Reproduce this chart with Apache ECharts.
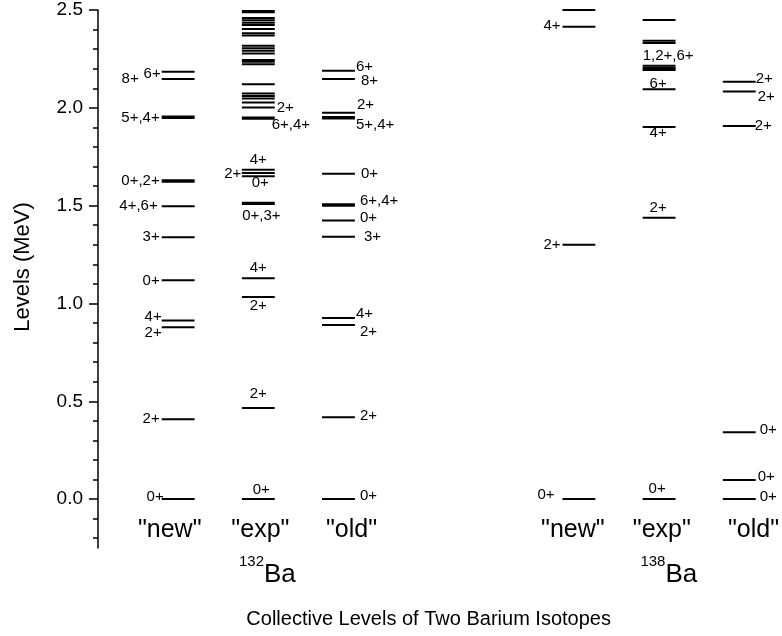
<!DOCTYPE html>
<html><head><meta charset="utf-8">
<script src="https://cdn.jsdelivr.net/npm/echarts@6/dist/echarts.min.js"></script>
<style>html,body{margin:0;padding:0;background:#fff}#c{width:782px;height:636px}</style>
</head><body><div id="c"></div>
<script>
// ---------- data ----------
const columnNames = ['"new"', '"exp"', '"old"', '"new"', '"exp"', '"old"'];
const columnPos = [1, 2, 3, 6, 7, 8];
const captionPos = [0.895, 2.026, 3.163, 5.924, 7.034, 8.177];
const isotopeMass = ['132', '138'];
const yMajorTicks = [0, 0.5, 1.0, 1.5, 2.0, 2.5];
const yMinorTicks = [-0.2, -0.1, 0.1, 0.2, 0.3, 0.4, 0.6, 0.7, 0.8, 0.9, 1.1, 1.2, 1.3, 1.4,
  1.6, 1.7, 1.8, 1.9, 2.1, 2.2, 2.3, 2.4];

// 132Ba "new"
const ba132NewLevels = [0, 0.408, 0.879, 0.913, 1.118, 1.339, 1.497, 1.622, 1.630, 1.948, 1.956, 2.147, 2.184];
const ba132NewSpins = ['0+', '2+', '2+', '4+', '0+', '3+', '4+,6+', '', '0+,2+', '', '5+,4+', '8+', '6+'];
// 132Ba "exp"
const ba132ExpLevels = [0, 0.465, 1.033, 1.129, 1.508, 1.515, 1.650, 1.667, 1.684, 1.944, 1.951, 2.002,
  2.027, 2.048, 2.061, 2.073, 2.121, 2.223, 2.235, 2.245, 2.278, 2.292, 2.304, 2.317,
  2.370, 2.381, 2.403, 2.423, 2.435, 2.447, 2.459, 2.488, 2.495];
const ba132ExpSpins = ['0+', '2+', '2+', '4+', '0+,3+', '', '0+', '2+', '4+', '6+,4+', '', '2+',
  '', '', '', '', '', '', '', '', '', '', '', '', '', '', '', '', '', '', '', '', ''];
// 132Ba "old"
const ba132OldLevels = [0, 0.418, 0.890, 0.926, 1.341, 1.424, 1.500, 1.507, 1.663, 1.946, 1.953, 1.975, 2.147, 2.189];
const ba132OldSpins = ['0+', '2+', '2+', '4+', '3+', '0+', '', '6+,4+', '0+', '', '5+,4+', '2+', '8+', '6+'];
// 138Ba "new"
const ba138NewLevels = [0, 1.30, 2.415, 2.500];
const ba138NewSpins = ['0+', '2+', '4+', ''];
// 138Ba "exp"
const ba138ExpLevels = [0, 1.438, 1.902, 2.095, 2.193, 2.199, 2.205, 2.215, 2.331, 2.343, 2.449];
const ba138ExpSpins = ['0+', '2+', '4+', '6+', '', '', '', '', '1,2+,6+', '', ''];
// 138Ba "old"
const ba138OldLevels = [0, 0.097, 0.342, 1.907, 2.083, 2.133];
const ba138OldSpins = ['0+', '0+', '0+', '2+', '2+', '2+'];

// ---------- label placement (style) ----------
const ba132NewPlace = [['L',4,-2],['L',0,0],['L',2,6],['L',2,-4],['L',0,0],['L',0,0],['L',-2,0],null,['L',0,1],null,['L',0,1],['L',-21,0],['L',1,2]];
const ba132ExpPlace = [['T',3,-1],['T',0,-6],['B',0,0],['T',0,-2],['B',3,3],null,['B',2,-2],['L',1.5,1],['T',0,-1],['R',-5,6],null,['R',0,0]];
const ba132OldPlace = [['R',3,-3],['R',3,-1],['R',3,7],['R',-1,-4],['R',7,0],['R',3,-3],null,['R',3,-3],['R',4,0],null,['R',-1,8],['R',0,-8],['R',4,2],['R',-1,-4]];
const ba138NewPlace = [['L',-6,-4],['L',0,0],['L',0,-1],null];
const ba138ExpPlace = [['T',-2,-2],['T',-1,-1],['B',-1,-3],['T',-1,3],null,null,null,null,['B',9,4],null,null];
const ba138OldPlace = [['R',2,-2],['R',0,-3],['R',2,-2],['R',-3,0],['R',0,5],['R',-2,-3]];

const columns = [
  { levels: ba132NewLevels, spins: ba132NewSpins, place: ba132NewPlace },
  { levels: ba132ExpLevels, spins: ba132ExpSpins, place: ba132ExpPlace },
  { levels: ba132OldLevels, spins: ba132OldSpins, place: ba132OldPlace },
  { levels: ba138NewLevels, spins: ba138NewSpins, place: ba138NewPlace },
  { levels: ba138ExpLevels, spins: ba138ExpSpins, place: ba138ExpPlace },
  { levels: ba138OldLevels, spins: ba138OldSpins, place: ba138OldPlace }
];

const FONT = '"Liberation Sans", Arial, Helvetica, sans-serif';
const LINE_HALF = 0.205;

const seriesData = [];
columns.forEach((col, ci) => col.levels.forEach((v, li) => seriesData.push([columnPos[ci], v, ci, li])));

function renderItem(params, api) {
  const x = api.value(0), v = api.value(1), ci = api.value(2), li = api.value(3);
  const c = api.coord([x, v]);
  const half = api.size([LINE_HALF, 0])[0];
  const x1 = c[0] - half, x2 = c[0] + half, y = c[1];
  const children = [{
    type: 'line', shape: { x1: x1, y1: y, x2: x2, y2: y },
    style: { stroke: '#000', lineWidth: 2 }
  }];
  const txt = columns[ci].spins[li];
  const pl = columns[ci].place[li];
  if (txt && pl) {
    const [p, dx, dy] = pl;
    let tx, ty, align, va;
    if (p === 'L') { tx = x1 - 2 + dx; ty = y + dy; align = 'right'; va = 'middle'; }
    else if (p === 'R') { tx = x2 + 2 + dx; ty = y + dy; align = 'left'; va = 'middle'; }
    else if (p === 'T') { tx = c[0] + dx; ty = y - 1 + dy; align = 'center'; va = 'bottom'; }
    else { tx = c[0] + dx; ty = y + 1 + dy; align = 'center'; va = 'top'; }
    children.push({
      type: 'text',
      style: { text: txt, x: tx, y: ty, align: align, verticalAlign: va, fill: '#000', font: '15px ' + FONT }
    });
  }
  return { type: 'group', children: children };
}

function captionFormatter(val) {
  let idx = 0, best = 1e9;
  captionPos.forEach((p, i) => { const d = Math.abs(p - val); if (d < best) { best = d; idx = i; } });
  const name = columnNames[idx];
  if (idx === 1) return name + '\n{sup|' + isotopeMass[0] + '}{ba|Ba}';
  if (idx === 4) return name + '\n{sup|' + isotopeMass[1] + '}{ba|Ba}';
  return name;
}

const chart = echarts.init(document.getElementById('c'), null, { renderer: 'canvas' });
chart.setOption({
  animation: false,
  backgroundColor: '#fff',
  grid: { left: 98, right: 0, top: 10, bottom: 88, containLabel: false },
  xAxis: {
    type: 'value', min: 0, max: 8.5,
    axisLine: { show: false }, axisTick: { show: false }, splitLine: { show: false },
    axisLabel: {
      customValues: captionPos,
      formatter: captionFormatter,
      margin: -33,
      color: '#000', fontSize: 25, lineHeight: 30, fontFamily: FONT,
      rich: {
        sup: { fontSize: 15, fontFamily: FONT, color: '#000', padding: [0, 0, 26, 14] },
        ba: { fontSize: 26, fontFamily: FONT, color: '#000', lineHeight: 60 }
      }
    },
    name: 'Collective Levels of Two Barium Isotopes',
    nameLocation: 'middle', nameGap: 61,
    nameTextStyle: { fontSize: 20, color: '#000', fontFamily: FONT, padding: [0, 20, 0, 0] }
  },
  yAxis: [{
    type: 'value', min: -0.25, max: 2.5, position: 'left',
    axisLine: { show: true, lineStyle: { color: '#000', width: 1.5 } },
    axisTick: { show: true, inside: false, length: 9, customValues: yMajorTicks, lineStyle: { color: '#000', width: 1.5 } },
    axisLabel: { customValues: yMajorTicks, formatter: v => v.toFixed(1), margin: 15, color: '#000', fontSize: 19, fontFamily: FONT },
    splitLine: { show: false },
    name: 'Levels (MeV)', nameLocation: 'middle', nameGap: 64, nameRotate: 90,
    nameTextStyle: { fontSize: 22, color: '#000', fontFamily: FONT, padding: [0, 0, 0, 24] }
  }, {
    type: 'value', min: -0.25, max: 2.5, position: 'left', offset: 0,
    axisLine: { show: false },
    axisTick: { show: true, inside: false, length: 5, customValues: yMinorTicks, lineStyle: { color: '#000', width: 1.5 } },
    axisLabel: { show: false },
    splitLine: { show: false }
  }],
  series: [{
    type: 'custom', xAxisIndex: 0, yAxisIndex: 0, clip: false,
    renderItem: renderItem, data: seriesData
  }]
});
</script></body></html>
